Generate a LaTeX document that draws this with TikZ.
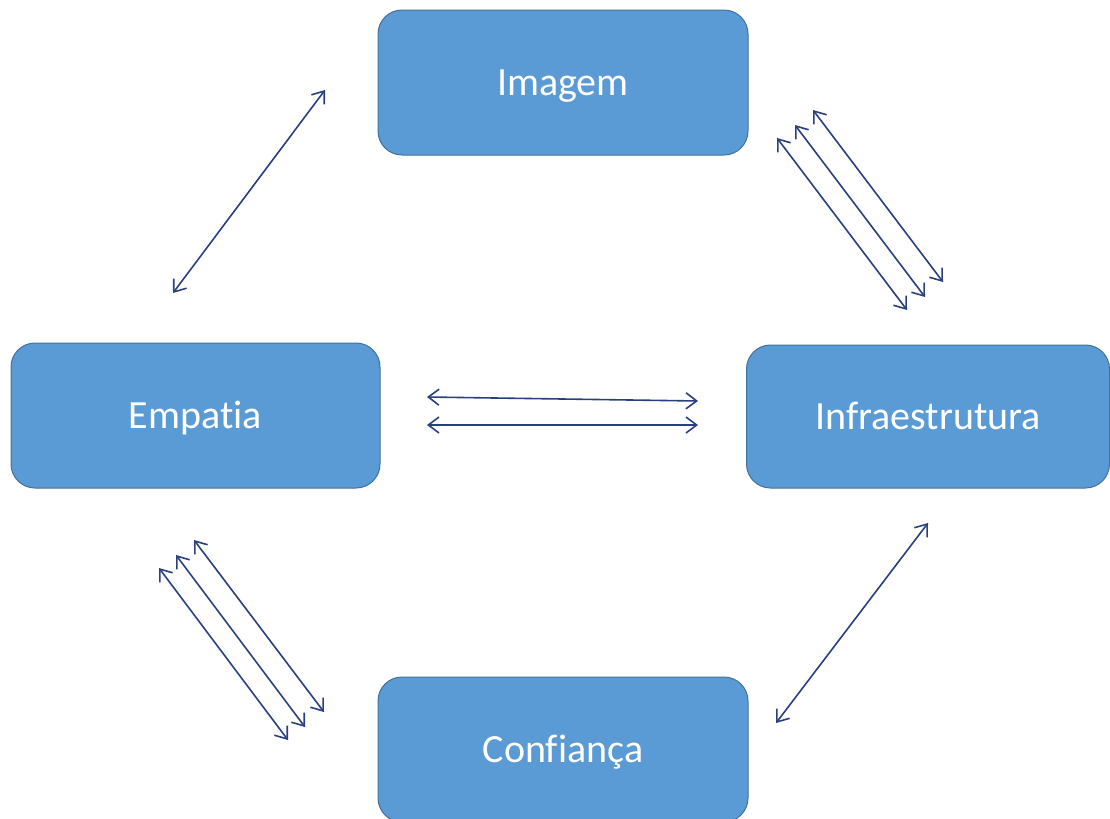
\documentclass[tikz,border=0pt]{standalone}
\usepackage{fontspec}
\setmainfont{Carlito}[Ligatures=NoCommon]
\usepackage{tikz}
\usetikzlibrary{arrows.meta}
\definecolor{boxfill}{HTML}{5B9BD5}
\definecolor{boxline}{HTML}{41719C}
\definecolor{linkcol}{HTML}{2A407E}

\begin{document}
\begin{tikzpicture}[
  x=0.75pt, y=-0.75pt,
  box/.style ={rectangle, draw=boxline, line width=0.75pt, fill=boxfill,
               rounded corners=18pt, text=white, inner sep=0pt,
               font=\fontsize{30}{36}\selectfont, text height=19.2pt, text depth=0pt},
  link/.style={draw=linkcol, line width=1.2pt,
               {Straight Barb[length=8pt,width=12pt]}-{Straight Barb[length=8pt,width=12pt]}}
]
\useasboundingbox (0,0) rectangle (1110,818);
\clip (0,0) rectangle (1110,818);

%--- Boxes ------------------------------------------------------------------
\node[box, minimum width=277.5pt, minimum height=108.75pt] (imagem)   at (563,82.5)  {Imagem};
\node[box, minimum width=276.75pt, minimum height=108.75pt] (empatia) at (195.5,415.5) {Empatia};
\node[box, minimum width=272.25pt, minimum height=107.25pt] (infra)   at (928,416.5) {Infraestrutura};
\node[box, minimum width=277.5pt, minimum height=108.75pt] (confianca) at (563,749.5) {Confiança};

%--- Arrow ends -------------------------------------------------------------
\coordinate (ie-a) at (325,90);  \coordinate (ie-b) at (173,293);
\coordinate (ii1-a) at (777,138); \coordinate (ii1-b) at (907,310);
\coordinate (ii2-a) at (795,125); \coordinate (ii2-b) at (925,297);
\coordinate (ii3-a) at (813,110); \coordinate (ii3-b) at (943,282);
\coordinate (ei1-a) at (427,397); \coordinate (ei1-b) at (698,401);
\coordinate (ei2-a) at (427,425); \coordinate (ei2-b) at (698,425);
\coordinate (ec1-a) at (159,568); \coordinate (ec1-b) at (288,740);
\coordinate (ec2-a) at (176,555); \coordinate (ec2-b) at (305,727);
\coordinate (ec3-a) at (194,540); \coordinate (ec3-b) at (324,712);
\coordinate (ic-a) at (928,523);  \coordinate (ic-b) at (776,723);

%--- connection -------------------------------------------------------------
\draw[link] (ie-a) -- (ie-b);
\draw[link] (ii1-a) -- (ii1-b);
\draw[link] (ii2-a) -- (ii2-b);
\draw[link] (ii3-a) -- (ii3-b);
\draw[link] (ei1-a) -- (ei1-b);
\draw[link] (ei2-a) -- (ei2-b);
\draw[link] (ec1-a) -- (ec1-b);
\draw[link] (ec2-a) -- (ec2-b);
\draw[link] (ec3-a) -- (ec3-b);
\draw[link] (ic-a) -- (ic-b);
\end{tikzpicture}
\end{document}
